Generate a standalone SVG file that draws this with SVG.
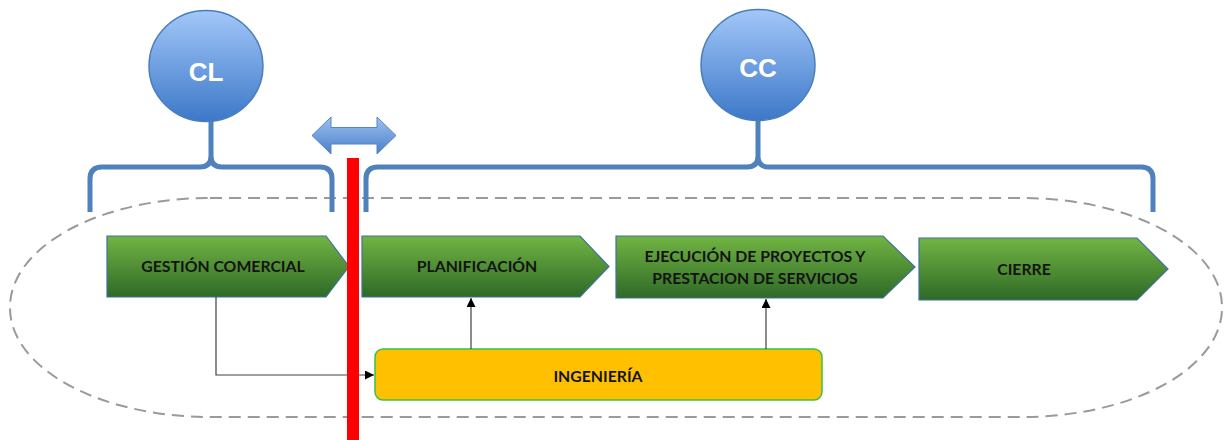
<svg xmlns="http://www.w3.org/2000/svg" width="1227" height="440" viewBox="0 0 1227 440">
<defs>
<linearGradient id="gBlue" x1="0" y1="0" x2="0" y2="1">
<stop offset="0" stop-color="#A3C7F9"/>
<stop offset="1" stop-color="#3C78C8"/>
</linearGradient>
<linearGradient id="gArrow" x1="0" y1="0" x2="0" y2="1">
<stop offset="0" stop-color="#9CC0F2"/>
<stop offset="1" stop-color="#4C80C8"/>
</linearGradient>
<linearGradient id="gGreen" x1="0" y1="0" x2="0" y2="1">
<stop offset="0" stop-color="#72B443"/>
<stop offset="1" stop-color="#2E6A26"/>
</linearGradient>
<marker id="ah" viewBox="0 0 10 10" refX="10" refY="5" markerWidth="9" markerHeight="9" markerUnits="userSpaceOnUse" orient="auto">
<path d="M0,0 L10,5 L0,10 z" fill="#000"/>
</marker>
<style>
.circ{fill:url(#gBlue);stroke:#4A7EBB;stroke-width:1.5}
.ctxt{font-family:"Liberation Sans",Arial,sans-serif;font-weight:bold;font-size:26px;fill:#fff;text-anchor:middle}
.brace{fill:none;stroke:#4F81BD;stroke-width:5;stroke-linejoin:round}
.step{fill:url(#gGreen);stroke:#41719C;stroke-width:1.2}
.stxt{font-family:Lato,"Open Sans",sans-serif;font-weight:bold;font-size:15.8px;fill:#141414;text-anchor:middle}
.conn{fill:none;stroke:#404040;stroke-width:1.2;marker-end:url(#ah)}
</style>
</defs>
<rect x="10" y="198" width="1212" height="219" rx="200" ry="109" fill="none" stroke="#9A9A9A" stroke-width="2" stroke-dasharray="12 7"/>
<g id="braces">
<path class="brace" d="M90 212 V179 Q90 167 102 167 H200 Q211 167 211 156 V121 M211 156 Q211 167 222 167 H320 Q332 167 332 179 V212"/>
<path class="brace" d="M366 212 V179 Q366 167 378 167 H747 Q758 167 758 156 V121 M758 156 Q758 167 769 167 H1141 Q1153 167 1153 179 V212"/>
</g>
<g id="cl">
<ellipse class="circ" cx="206" cy="66" rx="57" ry="55.5"/>
<text class="ctxt" x="206" y="81">CL</text>
</g>
<g id="cc">
<ellipse class="circ" cx="758" cy="65" rx="57" ry="55.5"/>
<text class="ctxt" x="758" y="77">CC</text>
</g>
<g id="double-arrow">
<path d="M312 135.5 L331 117 V127.5 H377 V117 L396 135.5 L377 154 V144 H331 V154 Z" fill="url(#gArrow)" stroke="#5585C5" stroke-width="1"/>
</g>
<g id="gestion">
<path class="step" d="M107 236 H326 L349 266.5 L326 297 H107 Z"/>
<text class="stxt" x="223" y="272">GESTIÓN COMERCIAL</text>
</g>
<g id="planificacion">
<path class="step" d="M362 236 H580 L609 266.5 L580 297 H362 Z"/>
<text class="stxt" x="477" y="272">PLANIFICACIÓN</text>
</g>
<g id="ejecucion">
<path class="step" d="M616 236 H883 L915 267 L883 298 H616 Z"/>
<text class="stxt" x="755" y="262">EJECUCIÓN DE PROYECTOS Y</text>
<text class="stxt" x="755" y="284">PRESTACION DE SERVICIOS</text>
</g>
<g id="cierre">
<path class="step" d="M919 238 H1137 L1168 269 L1137 300 H919 Z"/>
<text class="stxt" x="1024" y="274.5">CIERRE</text>
</g>
<g id="ingenieria">
<rect x="375" y="349" width="447" height="51" rx="8" fill="#FFC000" stroke="#3DBE4A" stroke-width="1.5"/>
<text class="stxt" x="598" y="381.5">INGENIERÍA</text>
</g>
<g id="connectors">
<path class="conn" d="M216 297 V375 H374"/>
<path class="conn" d="M471 349 V298"/>
<path class="conn" d="M766 349 V299"/>
</g>
<rect id="red-line" x="347" y="158" width="12" height="282" fill="#FF0000"/>
</svg>
